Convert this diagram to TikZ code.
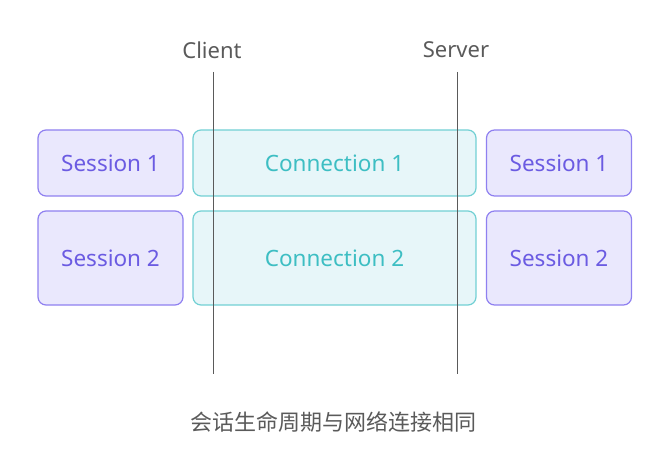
\documentclass[tikz,border=0pt]{standalone}
\usepackage{fontspec}
\setmainfont{Noto Sans}
\newfontfamily\cjk{Noto Sans CJK SC}
\usetikzlibrary{positioning}
\definecolor{sessfill}{HTML}{EAE8FD}
\definecolor{sessdraw}{HTML}{8F80F0}
\definecolor{sesstext}{HTML}{6B5BE2}
\definecolor{connfill}{HTML}{E7F6F9}
\definecolor{conndraw}{HTML}{72D0D4}
\definecolor{conntext}{HTML}{3DBEC3}
\definecolor{linegray}{HTML}{5A5A5A}
\begin{document}
\begin{tikzpicture}[x=1pt,y=-1pt,
    sessbox/.style={draw=sessdraw, fill=sessfill, text=sesstext, line width=1.2pt, rounded corners=8pt,
      minimum width=145pt, inner sep=0pt, font=\fontsize{22.5}{26}\selectfont},
    connbox/.style={draw=conndraw, fill=connfill, text=conntext, line width=1.2pt, rounded corners=8pt,
      minimum width=283pt, inner sep=0pt, font=\fontsize{22.5}{26}\selectfont},
    endlabel/.style={text=linegray, font=\fontsize{22}{26}\selectfont},
    lifeline/.style={draw=linegray, line width=0.9pt}]
  \useasboundingbox (0,0) rectangle (667,449);
  % row 1
  \node[sessbox, minimum height=66pt] (s1l) at (110.5,163) {Session 1};
  \node[connbox, minimum height=66pt] (c1) at (334.5,163) {Connection 1};
  \node[sessbox, minimum height=66pt] (s1r) at (559,163) {Session 1};
  % row 2
  \node[sessbox, minimum height=94pt] (s2l) at (110.5,258) {Session 2};
  \node[connbox, minimum height=94pt] (c2) at (334.5,258) {Connection 2};
  \node[sessbox, minimum height=94pt] (s2r) at (559,258) {Session 2};
  % ends
  \node[endlabel] (client) at (212,50) {Client};
  \node[endlabel] (server) at (456,50) {Server};
  \coordinate (clienttop) at (213,72);
  \coordinate (servertop) at (457,72);
  \coordinate (clientend) at (213,374);
  \coordinate (serverend) at (457,374);
  \draw[lifeline] (clienttop) -- (clientend);
  \draw[lifeline] (servertop) -- (serverend);
  \node[text=linegray, font=\cjk\fontsize{22}{26}\selectfont] (caption) at (333,422) {会话生命周期与网络连接相同};
\end{tikzpicture}
\end{document}
